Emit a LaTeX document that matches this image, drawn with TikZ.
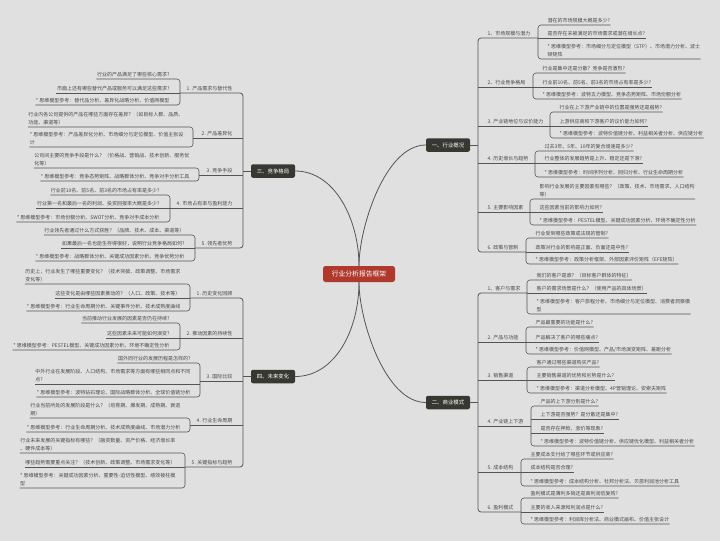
\documentclass[tikz,border=0pt]{standalone}
\usepackage{fontspec}
\setmainfont{Noto Sans CJK SC}
\definecolor{paper}{HTML}{E0E0E0}
\definecolor{ink}{HTML}{555555}
\definecolor{txt}{HTML}{474747}
\definecolor{dark}{HTML}{383832}
\definecolor{rootred}{HTML}{B0392D}

\begin{document}
\begin{tikzpicture}[x=1pt, y=-1pt,
  root/.style={fill=rootred, text=white, rounded corners=2.5pt, minimum width=72pt, minimum height=16pt, inner sep=0pt, font=\fontsize{6.8}{8}\selectfont},
  topic/.style={fill=dark, text=white, rounded corners=2pt, minimum width=44pt, minimum height=13.5pt, inner sep=0pt, font=\fontsize{5.4}{6.5}\selectfont},
  lfr/.style={anchor=south west, inner xsep=0.4pt, inner ysep=2pt, text depth=0.8pt, text=txt, align=left, font=\fontsize{5}{7.2}\selectfont},
  lfl/.style={lfr, anchor=south east},
  e/.style={draw=ink, line width=0.6pt, rounded corners=3pt},
  trunk/.style={e, line width=0.8pt}]
\fill[paper] (0,0) rectangle (720,541);
\useasboundingbox (0,0) rectangle (720,541);

\node[root] (root) at (359,274) {行业分析报告框架};
\node[topic] (t1) at (448,145) {一、行业概况};
\node[topic] (t2) at (448,402.5) {二、商业模式};
\node[topic] (t3) at (273,171) {三、竞争格局};
\node[topic] (t4) at (273,376.5) {四、未来变化};
\draw[trunk] (root.north) .. controls (359,228) and (385,145) .. (t1.west);
\draw[trunk] (root.north) .. controls (359,220) and (335,171) .. (t3.east);
\draw[trunk] (root.south) .. controls (359,320) and (385,402.5) .. (t2.west);
\draw[trunk] (root.south) .. controls (359,330) and (335,376.5) .. (t4.east);

\coordinate (sR) at (478,0);
\coordinate (sL) at (243,0);

% 一、行业概况
\node[lfr] (gk1) at (487,38) {1、市场规模与潜力};
\node[lfr] (gk2) at (487,87) {2、行业竞争格局};
\node[lfr] (gk3) at (487,126) {3. 产业链地位与议价能力};
\node[lfr] (gk4) at (487,163) {4. 历史增长与趋势};
\node[lfr] (gk5) at (487,212) {5. 主要影响因素};
\node[lfr] (gk6) at (487,252) {6. 政策与管制};
\coordinate (kgk1) at (538,38); \coordinate (kgk2) at (533,87); \coordinate (kgk3) at (550,126);
\coordinate (kgk4) at (535,163); \coordinate (kgk5) at (530,212); \coordinate (kgk6) at (526,252);
\node[lfr] (gk1a) at (547,25) {潜在的市场规模大概是多少?};
\node[lfr] (gk1b) at (547,38) {是否存在未被满足的市场需求或潜在增长点?};
\node[lfr] (gk1c) at (547,59) {* 思维模型参考：市场细分与定位模型（STP）、市场潜力分析、波士\\顿矩阵};
\node[lfr] (gk2a) at (542,73) {行业是集中还是分散？竞争是否激烈?};
\node[lfr] (gk2b) at (542,87) {行业前10名、前5名、前3名的市场占有率是多少?};
\node[lfr] (gk2c) at (542,99) {* 思维模型参考：波特五力模型、竞争态势矩阵、市场份额分析};
\node[lfr] (gk3a) at (559,112) {行业在上下游产业链中的位置是强势还是弱势?};
\node[lfr] (gk3b) at (559,126) {上游供应商和下游客户的议价能力如何?};
\node[lfr] (gk3c) at (559,138) {* 思维模型参考：波特价值链分析、利益相关者分析、供应链分析};
\node[lfr] (gk4a) at (544,151) {过去3年、5年、10年的复合增速是多少?};
\node[lfr] (gk4b) at (544,163) {行业整体的发展趋势是上升、稳定还是下滑?};
\node[lfr] (gk4c) at (544,177) {* 思维模型参考：时间序列分析、回归分析、行业生命周期分析};
\node[lfr] (gk5a) at (539,199) {影响行业发展的主要因素有哪些？（政策、技术、市场需求、人口结构\\等）};
\node[lfr] (gk5b) at (539,212) {这些因素当前的影响力如何?};
\node[lfr] (gk5c) at (539,225) {* 思维模型参考：PESTEL模型、关键成功因素分析、环境不确定性分析};
\node[lfr] (gk6a) at (535,238) {行业受到哪些政策或法规的管制?};
\node[lfr] (gk6b) at (535,252) {政策对行业的影响是正面、负面还是中性?};
\node[lfr] (gk6c) at (535,264) {* 思维模型参考：政策分析框架、外部因素评价矩阵（EFE矩阵）};
\draw[trunk] (t1.east) -- (t1.east -| sR);
\draw[trunk] (kgk1) -- (gk1.south -| sR) -- (gk6.south -| sR) -- (kgk6);
\draw[trunk] (gk2.south -| sR) -- (kgk2); \draw[trunk] (gk3.south -| sR) -- (kgk3);
\draw[trunk] (gk4.south -| sR) -- (kgk4); \draw[trunk] (gk5.south -| sR) -- (kgk5);
\draw[e] (gk1a.south east) -- (gk1a.south -| kgk1) -- (gk1c.south -| kgk1) -- (gk1c.south east);
\draw[e] (gk1b.south -| kgk1) -- (gk1b.south east);
\draw[e] (gk2a.south east) -- (gk2a.south -| kgk2) -- (gk2c.south -| kgk2) -- (gk2c.south east);
\draw[e] (gk2b.south -| kgk2) -- (gk2b.south east);
\draw[e] (gk3a.south east) -- (gk3a.south -| kgk3) -- (gk3c.south -| kgk3) -- (gk3c.south east);
\draw[e] (gk3b.south -| kgk3) -- (gk3b.south east);
\draw[e] (gk4a.south east) -- (gk4a.south -| kgk4) -- (gk4c.south -| kgk4) -- (gk4c.south east);
\draw[e] (gk4b.south -| kgk4) -- (gk4b.south east);
\draw[e] (gk5a.south east) -- (gk5a.south -| kgk5) -- (gk5c.south -| kgk5) -- (gk5c.south east);
\draw[e] (gk5b.south -| kgk5) -- (gk5b.south east);
\draw[e] (gk6a.south east) -- (gk6a.south -| kgk6) -- (gk6c.south -| kgk6) -- (gk6c.south east);
\draw[e] (gk6b.south -| kgk6) -- (gk6b.south east);

% 二、商业模式
\node[lfr] (sy1) at (487,293) {1、客户与需求};
\node[lfr] (sy2) at (487,342) {2. 产品与功能};
\node[lfr] (sy3) at (487,380) {3. 销售渠道};
\node[lfr] (sy4) at (487,426) {4. 产业链上下游};
\node[lfr] (sy5) at (487,472) {5. 成本结构};
\node[lfr] (sy6) at (487,512) {6. 盈利模式};
\coordinate (ksy1) at (527,293); \coordinate (ksy2) at (526,342); \coordinate (ksy3) at (527,380);
\coordinate (ksy4) at (531,426); \coordinate (ksy5) at (521,472); \coordinate (ksy6) at (521,512);
\node[lfr] (sy1a) at (536,280) {我们的客户是谁？（目标客户群体的特征）};
\node[lfr] (sy1b) at (536,293) {客户的需求场景是什么？（使用产品的具体场景）};
\node[lfr] (sy1c) at (536,314) {* 思维模型参考：客户旅程分析、市场细分与定位模型、消费者洞察模\\型};
\node[lfr] (sy2a) at (535,327) {产品最重要的功能是什么?};
\node[lfr] (sy2b) at (535,342) {产品解决了客户的哪些痛点?};
\node[lfr] (sy2c) at (535,354) {* 思维模型参考：价值网模型、产品/市场演变矩阵、差距分析};
\node[lfr] (sy3a) at (536,367) {客户通过哪些渠道购买产品?};
\node[lfr] (sy3b) at (536,380) {主要销售渠道的优势和劣势是什么?};
\node[lfr] (sy3c) at (536,393) {* 思维模型参考：渠道分析模型、4P营销理论、安索夫矩阵};
\node[lfr] (sy4a) at (540,406) {产品的上下游分别是什么?};
\node[lfr] (sy4b) at (540,419) {上下游是否强势？是分散还是集中?};
\node[lfr] (sy4c) at (540,433) {是否存在押款、涨价等现象?};
\node[lfr] (sy4d) at (540,446) {* 思维模型参考：波特价值链分析、供应链优化模型、利益相关者分析};
\node[lfr] (sy5a) at (530,459) {主要成本支付给了哪些环节或供应商?};
\node[lfr] (sy5b) at (530,472) {成本结构是否合理?};
\node[lfr] (sy5c) at (530,486) {* 思维模型参考：成本结构分析、杜邦分析法、贝恩利润池分析工具};
\node[lfr] (sy6a) at (530,498) {盈利模式是薄利多销还是高利润低复购?};
\node[lfr] (sy6b) at (530,512) {主要的收入来源和利润点是什么?};
\node[lfr] (sy6c) at (530,524) {* 思维模型参考：利润库分析法、商业模式画布、价值主张设计};
\draw[trunk] (t2.east) -- (t2.east -| sR);
\draw[trunk] (ksy1) -- (sy1.south -| sR) -- (sy6.south -| sR) -- (ksy6);
\draw[trunk] (sy2.south -| sR) -- (ksy2); \draw[trunk] (sy3.south -| sR) -- (ksy3);
\draw[trunk] (sy4.south -| sR) -- (ksy4); \draw[trunk] (sy5.south -| sR) -- (ksy5);
\draw[e] (sy1a.south east) -- (sy1a.south -| ksy1) -- (sy1c.south -| ksy1) -- (sy1c.south east);
\draw[e] (sy1b.south -| ksy1) -- (sy1b.south east);
\draw[e] (sy2a.south east) -- (sy2a.south -| ksy2) -- (sy2c.south -| ksy2) -- (sy2c.south east);
\draw[e] (sy2b.south -| ksy2) -- (sy2b.south east);
\draw[e] (sy3a.south east) -- (sy3a.south -| ksy3) -- (sy3c.south -| ksy3) -- (sy3c.south east);
\draw[e] (sy3b.south -| ksy3) -- (sy3b.south east);
\draw[e] (sy4a.south east) -- (sy4a.south -| ksy4) -- (sy4d.south -| ksy4) -- (sy4d.south east);
\draw[e] (sy4b.south -| ksy4) -- (sy4b.south east); \draw[e] (sy4c.south -| ksy4) -- (sy4c.south east);
\draw[e] (sy5a.south east) -- (sy5a.south -| ksy5) -- (sy5c.south -| ksy5) -- (sy5c.south east);
\draw[e] (sy5b.south -| ksy5) -- (sy5b.south east);
\draw[e] (sy6a.south east) -- (sy6a.south -| ksy6) -- (sy6c.south -| ksy6) -- (sy6c.south east);
\draw[e] (sy6b.south -| ksy6) -- (sy6b.south east);

% 三、竞争格局
\node[lfl] (jz1) at (233,93) {1. 产品需求与替代性};
\node[lfl] (jz2) at (233,138) {2. 产品差异化};
\node[lfl] (jz3) at (233,175) {3. 竞争手段};
\node[lfl] (jz4) at (233,208) {4. 市场占有率与盈利能力};
\node[lfl] (jz5) at (233,248) {5. 领先者优势};
\coordinate (kjz1) at (180,93); \coordinate (kjz2) at (193,138); \coordinate (kjz3) at (199,175);
\coordinate (kjz4) at (170,208); \coordinate (kjz5) at (195,248);
\node[lfl] (jz1a) at (170,79) {行业的产品满足了哪些核心需求?};
\node[lfl] (jz1b) at (170,93) {市面上还有哪些替代产品或服务可以满足这些需求?};
\node[lfl] (jz1c) at (170,105) {* 思维模型参考：替代品分析、差异化战略分析、价值网模型};
\node[lfl] (jz2a) at (184,127) {行业内各公司提供的产品在哪些方面存在差异？（如目标人群、品质、\\功能、渠道等）};
\node[lfl] (jz2b) at (184,147) {* 思维模型参考：产品差异化分析、市场细分与定位模型、价值主张设\\计};
\node[lfl] (jz3a) at (190,168) {公司间主要的竞争手段是什么？（价格战、营销战、技术创新、服务优\\化等）};
\node[lfl] (jz3b) at (190,181) {* 思维模型参考：竞争态势矩阵、战略群体分析、竞争对手分析工具};
\node[lfl] (jz4a) at (160,195) {行业前10名、前5名、前3名的市场占有率是多少?};
\node[lfl] (jz4b) at (160,208) {行业第一名和最后一名的利润、投资回报率大概是多少?};
\node[lfl] (jz4c) at (160,222) {* 思维模型参考：市场份额分析、SWOT分析、竞争对手成本分析};
\node[lfl] (jz5a) at (185,235) {行业领先者通过什么方式获胜？（品牌、技术、成本、渠道等）};
\node[lfl] (jz5b) at (185,248) {如果最后一名也能生存得很好，说明行业竞争格局如何?};
\node[lfl] (jz5c) at (185,261) {* 思维模型参考：战略群体分析、关键成功因素分析、竞争优势分析};
\draw[trunk] (t3.west) -- (t3.west -| sL);
\draw[trunk] (kjz1) -- (jz1.south -| sL) -- (jz5.south -| sL) -- (kjz5);
\draw[trunk] (jz2.south -| sL) -- (kjz2); \draw[trunk] (jz3.south -| sL) -- (kjz3);
\draw[trunk] (jz4.south -| sL) -- (kjz4);
\draw[e] (jz1a.south west) -- (jz1a.south -| kjz1) -- (jz1c.south -| kjz1) -- (jz1c.south west);
\draw[e] (jz1b.south west) -- (jz1b.south -| kjz1);
\draw[e] (jz2a.south west) -- (jz2a.south -| kjz2) -- (jz2b.south -| kjz2) -- (jz2b.south west);
\draw[e] (jz3a.south west) -- (jz3a.south -| kjz3) -- (jz3b.south -| kjz3) -- (jz3b.south west);
\draw[e] (jz4a.south west) -- (jz4a.south -| kjz4) -- (jz4c.south -| kjz4) -- (jz4c.south west);
\draw[e] (jz4b.south west) -- (jz4b.south -| kjz4);
\draw[e] (jz5a.south west) -- (jz5a.south -| kjz5) -- (jz5c.south -| kjz5) -- (jz5c.south west);
\draw[e] (jz5b.south west) -- (jz5b.south -| kjz5);

% 四、未来变化
\node[lfl] (wl1) at (233,298) {1. 历史变化回顾};
\node[lfl] (wl2) at (233,338) {2. 推动因素的持续性};
\node[lfl] (wl3) at (233,381) {3. 国际比较};
\node[lfl] (wl4) at (233,425) {4. 行业生命周期};
\node[lfl] (wl5) at (233,467) {5. 关键指标与趋势};
\coordinate (kwl1) at (190,298); \coordinate (kwl2) at (180,338); \coordinate (kwl3) at (200,381);
\coordinate (kwl4) at (190,425); \coordinate (kwl5) at (185,467);
\node[lfl] (wl1a) at (181,284) {历史上，行业发生了哪些重要变化？（技术突破、政策调整、市场需求\\变化等）};
\node[lfl] (wl1b) at (181,298) {这些变化是由哪些因素推动的？（人口、政策、技术等）};
\node[lfl] (wl1c) at (181,311) {* 思维模型参考：行业生命周期分析、关键事件分析、技术成熟度曲线};
\node[lfl] (wl2a) at (170,323) {当前推动行业发展的因素是否仍在持续?};
\node[lfl] (wl2b) at (170,338) {这些因素未来可能如何演变?};
\node[lfl] (wl2c) at (170,350) {* 思维模型参考：PESTEL模型、关键成功因素分析、环境不确定性分析};
\node[lfl] (wl3a) at (191,363) {国外同行业的发展历程是怎样的?};
\node[lfl] (wl3b) at (191,384) {中外行业在发展阶段、人口结构、市场需求等方面有哪些相同点和不同\\点?};
\node[lfl] (wl3c) at (191,397) {* 思维模型参考：波特钻石理论、国际战略群体分析、全球价值链分析};
\node[lfl] (wl4a) at (181,418) {行业当前所处的发展阶段是什么？（培育期、爆发期、成熟期、衰退\\期）};
\node[lfl] (wl4b) at (181,432) {* 思维模型参考：行业生命周期分析、技术成熟度曲线、市场潜力分析};
\node[lfl] (wl5a) at (176,453) {行业未来发展的关键指标有哪些？（融资数量、资产价格、经济增长率\\、硬件成本等）};
\node[lfl] (wl5b) at (176,467) {哪些趋势需要重点关注？（技术创新、政策调整、市场需求变化等）};
\node[lfl] (wl5c) at (176,488) {* 思维模型参考：关键成功因素分析、重要性-迫切性模型、绩效棱柱模\\型};
\draw[trunk] (t4.west) -- (t4.west -| sL);
\draw[trunk] (kwl1) -- (wl1.south -| sL) -- (wl5.south -| sL) -- (kwl5);
\draw[trunk] (wl2.south -| sL) -- (kwl2); \draw[trunk] (wl3.south -| sL) -- (kwl3);
\draw[trunk] (wl4.south -| sL) -- (kwl4);
\draw[e] (wl1a.south west) -- (wl1a.south -| kwl1) -- (wl1c.south -| kwl1) -- (wl1c.south west);
\draw[e] (wl1b.south west) -- (wl1b.south -| kwl1);
\draw[e] (wl2a.south west) -- (wl2a.south -| kwl2) -- (wl2c.south -| kwl2) -- (wl2c.south west);
\draw[e] (wl2b.south west) -- (wl2b.south -| kwl2);
\draw[e] (wl3a.south west) -- (wl3a.south -| kwl3) -- (wl3c.south -| kwl3) -- (wl3c.south west);
\draw[e] (wl3b.south west) -- (wl3b.south -| kwl3);
\draw[e] (wl4a.south west) -- (wl4a.south -| kwl4) -- (wl4b.south -| kwl4) -- (wl4b.south west);
\draw[e] (wl5a.south west) -- (wl5a.south -| kwl5) -- (wl5c.south -| kwl5) -- (wl5c.south west);
\draw[e] (wl5b.south west) -- (wl5b.south -| kwl5);
\end{tikzpicture}
\end{document}
